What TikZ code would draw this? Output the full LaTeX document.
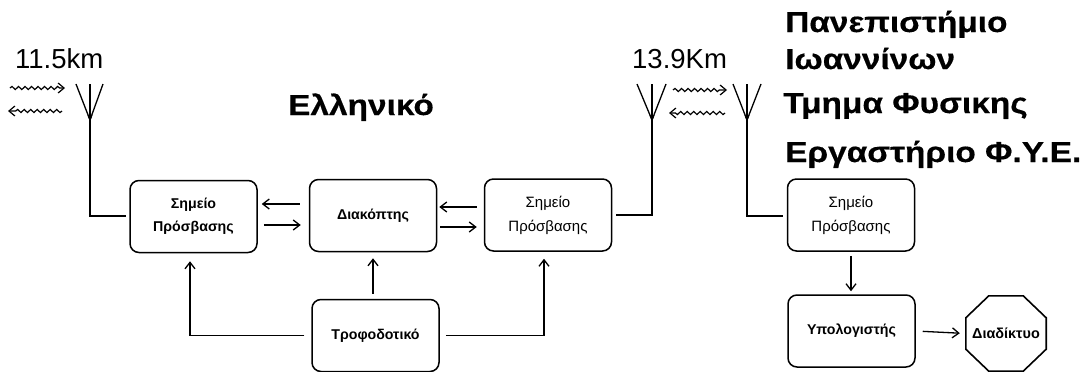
\documentclass[tikz,border=0pt]{standalone}
\usepackage{fontspec}
\setmainfont{Liberation Sans}
\newfontfamily\widefont[BoldFeatures={FakeStretch=1.16,FakeBold=0.4}]{Liberation Sans}
\usetikzlibrary{arrows.meta,decorations.pathmorphing}
\newcommand{\fsz}[1]{\fontsize{#1}{#1}\selectfont}
\tikzset{
  x=1pt,y=-1pt,
  block/.style={draw,line width=1.5pt,rounded corners=9pt,minimum width=127pt,minimum height=72pt,inner sep=0pt,align=center,font=\fsz{15}},
  blockb/.style={block,font=\fsz{14.2}\bfseries},
  arr/.style={line width=1.3pt,-{Straight Barb[length=6.5pt,width=10pt,line width=1.3pt]}},
  wavy/.style={line width=1.2pt,-{Straight Barb[length=6pt,width=10pt,line width=1.2pt]},decorate,decoration={snake,amplitude=1.6pt,segment length=6.5pt,post length=5pt}},
  link/.style={line width=1.5pt},
  ant/.style={line width=1.3pt},
  title/.style={anchor=base west,inner sep=0pt,font=\widefont\fsz{28.8}\bfseries},
  dist/.style={anchor=base west,inner sep=0pt,font=\fsz{27.5}}
}
\begin{document}
\begin{tikzpicture}
\useasboundingbox (0,0) rectangle (1088,372);
\fill[white] (0,0) rectangle (1088,372);
% blocks
\node[blockb] (ap1) at (193.5,216.5) {Σημείο\\[9pt]Πρόσβασης};
\node[blockb] (sw) at (373,215.5) {Διακόπτης};
\node[block] (ap2) at (548,215) {Σημείο\\[9pt]Πρόσβασης};
\node[blockb] (psu) at (375.5,335.5) {Τροφοδοτικό};
\node[block] (ap3) at (851,215) {Σημείο\\[9pt]Πρόσβασης};
\node[blockb] (pc) at (851.5,331) {\raisebox{-4pt}{Υπολογιστής}};
\node[minimum width=80pt,minimum height=75pt,inner sep=0pt,font=\fsz{14.4}\bfseries] (net) at (1006,333.5) {Διαδίκτυο};
\draw[line width=1.6pt] ([xshift=23pt]net.north west) -- ([xshift=-23pt]net.north east) -- ([yshift=-22pt]net.north east) -- ([yshift=22pt]net.south east) -- ([xshift=-23pt]net.south east) -- ([xshift=23pt]net.south west) -- ([yshift=22pt]net.south west) -- ([yshift=-22pt]net.north west) -- cycle;
% block arrows
\draw[arr,shorten <=9pt,shorten >=4pt] ([yshift=11.5pt]sw.west) -- ([yshift=11.5pt]sw.west -| ap1.east);
\draw[arr,shorten <=6pt,shorten >=8pt] ([yshift=-9.5pt]sw.west -| ap1.east) -- ([yshift=-9.5pt]sw.west);
\draw[arr,shorten <=7pt,shorten >=2pt] ([yshift=8pt]ap2.west) -- ([yshift=8pt]ap2.west -| sw.east);
\draw[arr,line width=1.6pt,shorten <=3pt,shorten >=7pt] ([yshift=-12pt]ap2.west -| sw.east) -- ([yshift=-12pt]ap2.west);
\draw[arr,shorten <=7pt,shorten >=8pt] (psu.west) -- ([xshift=-3.5pt]ap1.south |- psu.west) -- ([xshift=-3.5pt]ap1.south);
\draw[arr,shorten <=5pt,shorten >=6pt] ([xshift=-2.5pt]psu.north) -- (sw.south);
\draw[arr,line width=1.5pt,shorten <=6pt,shorten >=7pt] (psu.east) -- ([xshift=-4pt]ap2.south |- psu.east) -- ([xshift=-4pt]ap2.south);
\draw[arr,shorten <=4pt,shorten >=3pt] (ap3.south) -- (pc.north -| ap3.south);
\draw[arr,shorten <=7pt,shorten >=6pt] (pc.east) -- (net.west);
% antennas
\coordinate (j1) at (90,120); \coordinate (j2) at (652,120); \coordinate (j3) at (747,120);
\foreach \j/\l/\c/\r in {j1/76/90/103,j2/637/652/666,j3/733/747/761}{
  \draw[ant] (\l,84) -- (\j) -- (\r,84);
  \draw[ant] (\c,84) -- (\j);
  \fill (\j) ++(-2.5,-5) -- ++(5,0) -- ++(-2.5,7) -- cycle;
}
\draw[link] (j1) |- ([xshift=-3pt,yshift=0.5pt]ap1.west);
\draw[link] (j2) |- ([xshift=4pt]ap2.east);
\draw[ant] (j3) |- ([xshift=-4pt,yshift=-1pt]ap3.west);
% radio waves
\coordinate (w1a) at (10,88); \coordinate (w1b) at (65,88);
\coordinate (w2a) at (62,111); \coordinate (w2b) at (8,111);
\coordinate (w3a) at (673,90); \coordinate (w3b) at (727,90);
\coordinate (w4a) at (725,113); \coordinate (w4b) at (669,113);
\draw[wavy] (w1a) -- (w1b);
\draw[wavy] (w2a) -- (w2b);
\draw[wavy] (w3a) -- (w3b);
\draw[wavy] (w4a) -- (w4b);
% texts
\node[dist] (d1) at (15,68) {11.5km};
\node[dist] (d2) at (632,68) {13.9Km};
\node[title] (t0) at (288,115) {Ελληνικό};
\node[title] (t1) at (785,32) {Πανεπιστήμιο};
\node[title] (t2) at (785,69) {Ιωαννίνων};
\node[title] (t3) at (783,113) {Τμημα Φυσικης};
\node[title] (t4) at (785,162) {Εργαστήριο Φ.Υ.Ε.};
\end{tikzpicture}
\end{document}
